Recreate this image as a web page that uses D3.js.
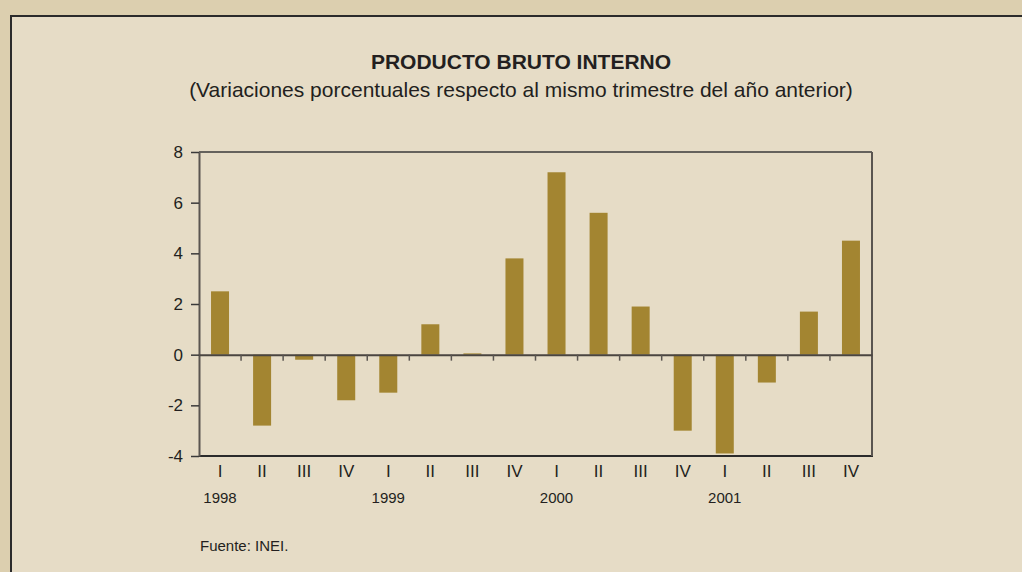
<!DOCTYPE html>
<html>
<head>
<meta charset="utf-8">
<script src="https://cdn.jsdelivr.net/npm/d3@7"></script>
<style>
  body { margin: 0; background: #dccfaf; }
  svg { display: block; }
</style>
</head>
<body>
<script>
// quarters, years and GDP growth values
var quarters = ['I', 'II', 'III', 'IV', 'I', 'II', 'III', 'IV',
                'I', 'II', 'III', 'IV', 'I', 'II', 'III', 'IV'];
var years = ['1998', '1999', '2000', '2001'];
var values = [2.5, -2.8, -0.2, -1.8, -1.5, 1.2, 0.05, 3.8,
              7.2, 5.6, 1.9, -3.0, -3.9, -1.1, 1.7, 4.5];
var yTicks = [8, 6, 4, 2, 0, -2, -4];

var width = 1022,
    height = 572;

var svg = d3.select('body')
  .append('svg')
  .attr('width', width)
  .attr('height', height);

// inner panel with dark border
svg.append('rect')
  .attr('x', 11)
  .attr('y', 16)
  .attr('width', 1040)
  .attr('height', 600)
  .attr('fill', '#e6dcc6')
  .attr('stroke', '#2b2b2b')
  .attr('stroke-width', 2);

var font = 'Liberation Sans, Arial, sans-serif';

svg.append('text')
  .attr('x', 521)
  .attr('y', 69)
  .attr('text-anchor', 'middle')
  .style('font-family', font)
  .style('font-weight', 'bold')
  .style('font-size', '21px')
  .style('fill', '#231f20')
  .text('PRODUCTO BRUTO INTERNO');

svg.append('text')
  .attr('x', 521)
  .attr('y', 97)
  .attr('text-anchor', 'middle')
  .style('font-family', font)
  .style('font-size', '21px')
  .style('fill', '#231f20')
  .text('(Variaciones porcentuales respecto al mismo trimestre del año anterior)');

// plot area
var plotLeft = 199, plotRight = 872, plotTop = 152, plotBottom = 456;

var x = d3.scaleBand()
  .domain(d3.range(values.length))
  .range([plotLeft, plotRight]);

var y = d3.scaleLinear()
  .domain([-4, 8])
  .range([plotBottom, plotTop]);

// bars
svg.append('g')
  .selectAll('rect')
  .data(values)
  .enter()
  .append('rect')
  .attr('x', function(d, i) { return x(i) + x.bandwidth() / 2 - 9; })
  .attr('width', 18)
  .attr('y', function(d) { return y(Math.max(0, d)); })
  .attr('height', function(d) { return Math.abs(y(d) - y(0)); })
  .attr('fill', '#a38531');

// frame: top and bottom dark, right side grey
svg.append('line')
  .attr('x1', plotLeft).attr('x2', plotRight).attr('y1', plotTop).attr('y2', plotTop)
  .attr('stroke', '#3a3a3a').attr('stroke-width', 1.5);
svg.append('line')
  .attr('x1', plotLeft).attr('x2', plotRight + 1).attr('y1', plotBottom).attr('y2', plotBottom)
  .attr('stroke', '#2b2b2b').attr('stroke-width', 2);
svg.append('line')
  .attr('x1', plotRight).attr('x2', plotRight).attr('y1', plotTop).attr('y2', plotBottom)
  .attr('stroke', '#5a5550').attr('stroke-width', 2);

// y axis (plain hyphen for negatives, as in the original)
var yAxis = svg.append('g')
  .attr('transform', 'translate(' + plotLeft + ',0)')
  .call(d3.axisLeft(y)
    .tickValues(yTicks)
    .tickFormat(function(d) { return String(d); })
    .tickSize(8)
    .tickSizeOuter(0));

yAxis.select('.domain').attr('stroke', '#5a5550').attr('stroke-width', 2);
yAxis.selectAll('.tick line').attr('stroke', '#3a3a3a').attr('stroke-width', 1.5);
yAxis.selectAll('.tick text')
  .attr('x', -16)
  .style('font-family', font)
  .style('font-size', '17px')
  .style('fill', '#231f20');

// zero line with ticks between quarters
var zeroAxis = svg.append('g')
  .attr('transform', 'translate(0,' + y(0) + ')')
  .call(d3.axisBottom(x).tickSize(0).tickFormat(''));
zeroAxis.select('.domain').attr('stroke', '#4a4540').attr('stroke-width', 2);
zeroAxis.selectAll('.tick').remove();

svg.append('g')
  .selectAll('line')
  .data(d3.range(1, values.length))
  .enter()
  .append('line')
  .attr('x1', function(i) { return x(i); })
  .attr('x2', function(i) { return x(i); })
  .attr('y1', y(0))
  .attr('y2', y(0) + 6)
  .attr('stroke', '#5a5550')
  .attr('stroke-width', 1.5);

// quarter labels
svg.append('g')
  .selectAll('text')
  .data(quarters)
  .enter()
  .append('text')
  .attr('x', function(d, i) { return x(i) + x.bandwidth() / 2; })
  .attr('y', 477)
  .attr('text-anchor', 'middle')
  .style('font-family', font)
  .style('font-size', '17px')
  .style('fill', '#231f20')
  .text(function(d) { return d; });

// year labels under each first quarter
svg.append('g')
  .selectAll('text')
  .data(years)
  .enter()
  .append('text')
  .attr('x', function(d, i) { return x(i * 4) + x.bandwidth() / 2; })
  .attr('y', 503)
  .attr('text-anchor', 'middle')
  .style('font-family', font)
  .style('font-size', '15px')
  .style('fill', '#231f20')
  .text(function(d) { return d; });

svg.append('text')
  .attr('x', 200)
  .attr('y', 551)
  .style('font-family', font)
  .style('font-size', '15px')
  .style('fill', '#231f20')
  .text('Fuente: INEI.');
</script>
</body>
</html>
